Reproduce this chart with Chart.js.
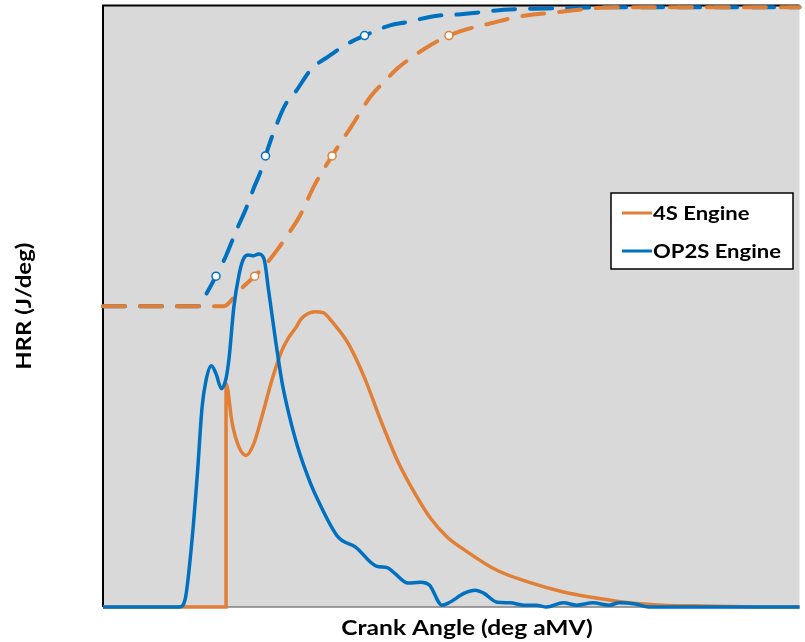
<!DOCTYPE html>
<html>
<head>
<meta charset="utf-8">
<script src="https://cdn.jsdelivr.net/npm/chart.js@4.4.1/dist/chart.umd.min.js"></script>
<style>
  html, body { margin: 0; padding: 0; background: #fff; }
  #wrap { width: 805px; height: 642px; }
</style>
</head>
<body>
<div id="wrap"><canvas id="hrrChart" width="805" height="642"></canvas></div>
<script>
// Crank angle (deg aMV) and HRR values
const op2sAngle = [-15, -5.1, -4.4, -3.5, -2.8, -2.2, -1.7, -1.0, -0.4, 0.3, 0.9, 1.3, 1.9, 2.6, 3.2, 3.8, 4.5, 5.1, 5.8, 6.4, 7.3, 8.1, 9.0, 10.3, 11.8, 12.8, 15.4, 17.6, 20.3, 21.8, 22.7, 24.4, 26.0, 27.2, 28.8, 29.7, 31.7, 33.1, 34.2, 35.9, 37.6, 39.4, 41.0, 42.3, 44.5, 46.2, 48.3, 50.4, 51.7, 53.8, 55.5, 75];
const op2sHrr = [0, 0, 1.2, 11.1, 22.2, 33.2, 37.6, 40.1, 38.8, 36.3, 38.0, 41.5, 49.8, 55.4, 58.0, 58.5, 58.4, 58.7, 57.9, 52.6, 44.3, 37.6, 32.2, 26.0, 20.6, 17.7, 11.6, 10.0, 6.8, 6.5, 5.6, 4.0, 4.1, 3.6, 0.3, 0.7, 2.3, 2.8, 2.3, 0.8, 0.7, 0.3, 0.3, 0, 0.7, 0.3, 0.7, 0.3, 0.7, 0.5, 0, 0];

const fourSAngle = [-15, 0.9, 0.9, 1.7, 2.6, 3.5, 4.5, 5.5, 6.8, 8.1, 9.0, 9.9, 10.6, 11.5, 12.4, 13.5, 14.5, 16.7, 18.8, 20.9, 23.1, 25.3, 27.3, 29.5, 31.7, 35.9, 40.1, 44.5, 48.7, 53.0, 57.3, 61.5, 70.1, 75];
const fourSHrr = [0, 0, 37.1, 30.5, 26.5, 25.2, 27.2, 31.5, 37.6, 42.6, 44.8, 46.4, 47.9, 48.8, 49.1, 48.9, 47.6, 43.8, 38.1, 31.0, 24.2, 18.9, 14.8, 11.6, 9.5, 6.1, 4.1, 2.5, 1.5, 0.7, 0.3, 0.2, 0, 0];

// cumulative heat release (dashed), shown on the same axis from 50 to 100
const op2sCumAngle = [-15, -2.6, -1.8, -0.4, 0.9, 2.2, 3.5, 4.5, 5.4, 6.0, 7.1, 8.6, 9.9, 11.9, 14.1, 16.7, 18.8, 22.1, 24.1, 28.2, 30.8, 33.3, 36.8, 42.3, 50.9, 75];
const op2sCum = [50, 50, 51.7, 55, 58.4, 62.5, 66.3, 69.7, 72.5, 75, 79.1, 83.6, 85.7, 89.4, 91.5, 93.7, 95, 96.7, 97.2, 98.3, 98.5, 98.8, 99.3, 99.5, 99.7, 99.7];

const fourSCumAngle = [-15, 0.6, 2.6, 4.6, 6.2, 7.7, 9.2, 10.3, 12.4, 14.6, 17.1, 19.6, 21.4, 23.1, 24.7, 27.3, 29.7, 33.0, 35.0, 38.1, 40.6, 43.2, 46.5, 50.9, 75];
const fourSCum = [50, 50, 52.6, 55, 57.2, 59.7, 62.5, 64.7, 70.3, 75, 79.9, 84.9, 87.4, 89.6, 91.2, 93.4, 95, 96.4, 97.0, 98.0, 98.5, 98.8, 99.3, 99.7, 99.7];

// CA10 / CA50 / CA90 markers
const markerLevels = [55, 75, 95];
const op2sMarkAngle = [-0.4, 6.0, 18.8];
const fourSMarkAngle = [4.6, 14.6, 29.7];

const ORANGE = "#E07F35";
const BLUE = "#0070C0";
const FONT = "Lato, 'Open Sans', sans-serif";

function pts(xs, ys) {
    return xs.map((x, i) => ({ x: x, y: ys[i] }));
}

// texto un poco ensanchado, como en la figura original
function wideText(ctx, text, x, y, stretch) {
    ctx.save();
    ctx.translate(x, y);
    ctx.scale(stretch, 1);
    ctx.fillText(text, 0, 0);
    ctx.restore();
}

// fondo gris, bordes, títulos y leyenda
const framePlugin = {
    id: "frame",
    beforeDraw(chart) {
        const { ctx, chartArea: a } = chart;
        ctx.save();
        ctx.fillStyle = "#ffffff";
        ctx.fillRect(0, 0, chart.width, chart.height);
        ctx.fillStyle = "#d9d9d9";
        ctx.fillRect(a.left, a.top, a.right - a.left, a.bottom - a.top);
        ctx.strokeStyle = "#7f7f7f";
        ctx.lineWidth = 1.5;
        ctx.beginPath();
        ctx.moveTo(a.left, a.bottom);
        ctx.lineTo(a.right, a.bottom);
        ctx.stroke();
        ctx.strokeStyle = "#000000";
        ctx.lineWidth = 2;
        ctx.beginPath();
        ctx.moveTo(a.right, a.top);
        ctx.lineTo(a.left, a.top);
        ctx.lineTo(a.left, a.bottom);
        ctx.stroke();
        ctx.restore();
    },
    afterDraw(chart) {
        const { ctx, chartArea: a } = chart;
        ctx.save();
        ctx.fillStyle = "#000";
        ctx.font = "bold 21px " + FONT;
        ctx.textAlign = "center";
        ctx.textBaseline = "middle";
        wideText(ctx, "Crank Angle (deg aMV)", 467, 628, 1.17);
        ctx.translate(24, (a.top + a.bottom) / 2);
        ctx.rotate(-Math.PI / 2);
        wideText(ctx, "HRR (J/deg)", 0, 0, 1.14);
        ctx.restore();

        // leyenda
        ctx.save();
        ctx.fillStyle = "#fff";
        ctx.fillRect(611, 193, 182, 76);
        ctx.strokeStyle = "#000";
        ctx.lineWidth = 1.5;
        ctx.strokeRect(611, 193, 182, 76);
        const items = [["4S Engine", ORANGE, 213], ["OP2S Engine", BLUE, 251]];
        ctx.font = "bold 19px " + FONT;
        ctx.textAlign = "left";
        ctx.textBaseline = "middle";
        items.forEach(([label, color, y]) => {
            ctx.strokeStyle = color;
            ctx.lineWidth = 3;
            ctx.beginPath();
            ctx.moveTo(622, y);
            ctx.lineTo(652, y);
            ctx.stroke();
            ctx.fillStyle = "#000";
            wideText(ctx, label, 653, y + 1, 1.16);
        });
        ctx.restore();
    }
};

const dashStyle = {
    borderWidth: 4,
    borderDash: [22, 15],
    borderCapStyle: "round",
    pointRadius: 0,
    fill: false,
    cubicInterpolationMode: "monotone",
    clip: false
};

const solidStyle = {
    showLine: true,
    borderWidth: 3.5,
    pointRadius: 0,
    cubicInterpolationMode: "monotone",
    clip: false
};

const markerStyle = {
    showLine: false,
    pointRadius: 4,
    pointBorderWidth: 1.5,
    pointBackgroundColor: "#ffffff",
    clip: false
};

new Chart(document.getElementById("hrrChart"), {
    type: "scatter",
    data: {
        datasets: [
            { label: "OP2S Engine", data: pts(op2sAngle, op2sHrr), borderColor: BLUE, order: 1, ...solidStyle },
            { label: "4S Engine", data: pts(fourSAngle, fourSHrr), borderColor: ORANGE, order: 2, ...solidStyle },
            { label: "4S cum", data: pts(fourSCumAngle, fourSCum), showLine: true, borderColor: ORANGE, order: 3, ...dashStyle },
            { label: "OP2S cum", data: pts(op2sCumAngle, op2sCum), showLine: true, borderColor: BLUE, order: 4, ...dashStyle },
            { label: "4S marks", data: pts(fourSMarkAngle, markerLevels), pointBorderColor: ORANGE, order: 0, ...markerStyle },
            { label: "OP2S marks", data: pts(op2sMarkAngle, markerLevels), pointBorderColor: BLUE, order: 0, ...markerStyle }
        ]
    },
    options: {
        responsive: false,
        devicePixelRatio: 1,
        animation: false,
        layout: { padding: { left: 103, top: 4, right: 0, bottom: 35 } },
        scales: {
            x: { type: "linear", min: -15, max: 75, display: false },
            y: { min: 0, max: 100, display: false }
        },
        plugins: {
            legend: { display: false },
            tooltip: { enabled: false }
        }
    },
    plugins: [framePlugin]
});
</script>
</body>
</html>
